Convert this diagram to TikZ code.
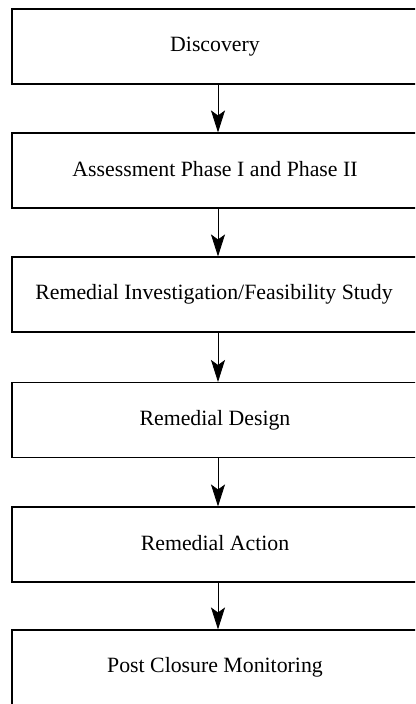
\documentclass[tikz,border=0pt]{standalone}
\usepackage{fontspec}
\setmainfont{Liberation Serif}
\usetikzlibrary{arrows.meta}
\begin{document}
\begin{tikzpicture}[x=1pt,y=-1pt,
  stagebox/.style={draw=black, line width=1.1pt, rectangle, minimum width=412pt,
    minimum height=75pt, inner sep=0pt, font=\fontsize{21.8}{24}\selectfont},
  flowarrow/.style={draw=black, line width=0.8pt,
    -{Stealth[length=22pt, width=14pt, inset=5pt]}}]
\useasboundingbox (0,0) rectangle (415,704);
\clip (0,0) rectangle (415,704);
\fill[white] (0,0) rectangle (415,704);
\node[stagebox] (b1) at (218,46.5) {\hspace*{-6pt}\raisebox{2pt}{Discovery}};
\node[stagebox] (b2) at (218,170.5) {\hspace*{-6pt}\raisebox{3pt}{Assessment Phase I and Phase II}};
\node[stagebox] (b3) at (218,294.5) {\hspace*{-8pt}\raisebox{3pt}{Remedial Investigation/Feasibility Study}};
\node[stagebox] (b4) at (218,420) {\hspace*{-6pt}\raisebox{3pt}{Remedial Design}};
\node[stagebox] (b5) at (218,544.5) {\hspace*{-6pt}\raisebox{3pt}{Remedial Action}};
\node[stagebox] (b6) at (218,667.5) {\hspace*{-6pt}\raisebox{3pt}{Post Closure Monitoring}};
\draw[flowarrow] (b1.south) -- (b2.north);
\draw[flowarrow] (b2.south) -- (b3.north);
\draw[flowarrow] (b3.south) -- (b4.north);
\draw[flowarrow] (b4.south) -- (b5.north);
\draw[flowarrow] (b5.south) -- (b6.north);
\end{tikzpicture}
\end{document}
